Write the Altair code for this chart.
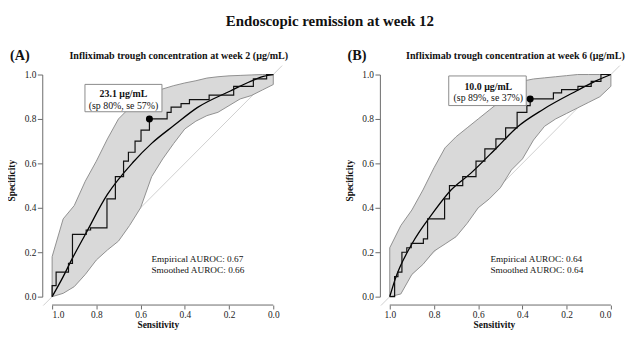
import altair as alt
import pandas as pd

FONT = "Liberation Serif"
TXT = "#111111"
AXC = "#6a6a6a"

SUPTITLE = "Endoscopic remission at week 12"
X_TITLE = "Sensitivity"
Y_TITLE = "Specificity"
TICKS = [0.0, 0.2, 0.4, 0.6, 0.8, 1.0]

# ---------------- Panel A ----------------
A_label = "(A)"
A_title = "Infliximab trough concentration at week 2 (μg/mL)"
A_emp_x = [1.0, 1.0, 0.982, 0.982, 0.926, 0.926, 0.908, 0.908, 0.846, 0.846, 0.826, 0.826,
           0.752, 0.752, 0.714, 0.714, 0.677, 0.677, 0.655, 0.655, 0.625, 0.625, 0.598, 0.598,
           0.56, 0.56, 0.48, 0.48, 0.462, 0.462, 0.417, 0.417, 0.379, 0.379, 0.29, 0.29,
           0.179, 0.179, 0.09, 0.09, 0.03, 0.03, 0.0]
A_emp_y = [0.0, 0.05, 0.05, 0.11, 0.11, 0.15, 0.15, 0.28, 0.28, 0.30, 0.30, 0.31,
           0.31, 0.44, 0.44, 0.54, 0.54, 0.61, 0.61, 0.65, 0.65, 0.70, 0.70, 0.75,
           0.75, 0.80, 0.80, 0.83, 0.83, 0.853, 0.853, 0.869, 0.869, 0.887, 0.887, 0.907,
           0.907, 0.947, 0.947, 0.98, 0.98, 1.0, 1.0]
A_smooth_x = [1.0, 0.95, 0.915, 0.85, 0.75, 0.633, 0.55, 0.45, 0.342, 0.194, 0.1, 0.045, 0.0]
A_smooth_y = [0.0, 0.09, 0.16, 0.28, 0.46, 0.606, 0.69, 0.77, 0.852, 0.926, 0.97, 0.992, 1.0]
BAND_X = [1.0, 0.95, 0.9, 0.85, 0.8, 0.75, 0.7, 0.65, 0.6, 0.55, 0.5, 0.45, 0.4, 0.35,
          0.3, 0.25, 0.2, 0.15, 0.1, 0.05, 0.0]
A_band_hi = [0.18, 0.35, 0.41, 0.52, 0.61, 0.71, 0.80, 0.85, 0.89, 0.915, 0.935, 0.95, 0.962,
             0.972, 0.984, 0.99, 0.994, 0.996, 0.998, 1.0, 1.0]
A_band_lo = [0.0, 0.015, 0.045, 0.10, 0.165, 0.21, 0.25, 0.32, 0.40, 0.54, 0.62, 0.69, 0.755,
             0.79, 0.815, 0.83, 0.86, 0.89, 0.905, 0.93, 0.955]
A_opt = [0.56, 0.80]
A_thr = "23.1 μg/mL"
A_opt_txt = "(sp 80%, se 57%)"
A_auc = ["Empirical AUROC: 0.67", "Smoothed AUROC: 0.66"]
A_auc_x = 0.551

# ---------------- Panel B ----------------
B_label = "(B)"
B_title = "Infliximab trough concentration at week 6 (μg/mL)"
B_emp_x = [1.0, 0.978, 0.978, 0.963, 0.963, 0.945, 0.945, 0.923, 0.923, 0.903, 0.903, 0.848,
           0.848, 0.829, 0.829, 0.752, 0.752, 0.73, 0.73, 0.707, 0.707, 0.67, 0.67, 0.61,
           0.61, 0.57, 0.57, 0.52, 0.52, 0.476, 0.476, 0.424, 0.424, 0.38, 0.38, 0.365,
           0.365, 0.26, 0.26, 0.223, 0.223, 0.149, 0.149, 0.089, 0.089, 0.045, 0.045, 0.0]
B_emp_y = [0.0, 0.0, 0.09, 0.09, 0.11, 0.11, 0.20, 0.20, 0.22, 0.22, 0.24, 0.24,
           0.26, 0.26, 0.35, 0.35, 0.44, 0.44, 0.50, 0.50, 0.50, 0.50, 0.54, 0.54,
           0.61, 0.61, 0.665, 0.665, 0.71, 0.71, 0.76, 0.76, 0.83, 0.83, 0.86, 0.86,
           0.89, 0.89, 0.917, 0.917, 0.932, 0.932, 0.947, 0.947, 0.969, 0.969, 1.0, 1.0]
B_smooth_x = [1.0, 0.975, 0.9, 0.804, 0.722, 0.633, 0.513, 0.424, 0.305, 0.156, 0.07, 0.0]
B_smooth_y = [0.0, 0.08, 0.237, 0.378, 0.481, 0.556, 0.674, 0.763, 0.844, 0.926, 0.97, 1.0]
B_band_hi = [0.22, 0.32, 0.39, 0.48, 0.58, 0.67, 0.72, 0.76, 0.80, 0.84, 0.88, 0.93, 0.97,
             0.98, 0.985, 0.99, 0.995, 1.0, 1.0, 1.0, 1.0]
B_band_lo = [0.0, 0.012, 0.10, 0.145, 0.205, 0.237, 0.27, 0.33, 0.40, 0.44, 0.49, 0.57, 0.62,
             0.705, 0.767, 0.80, 0.825, 0.85, 0.875, 0.90, 0.947]
B_opt = [0.365, 0.89]
B_thr = "10.0 μg/mL"
B_opt_txt = "(sp 89%, se 37%)"
B_auc = ["Empirical AUROC: 0.64", "Smoothed AUROC: 0.64"]
B_auc_x = 0.545

AUC_Y = [0.155, 0.106]
DIAG = [[1.04, -0.04], [-0.04, 1.04]]

# ---------------- layout (pixels) ----------------
PW, H = 224, 225          # one panel's plot box
GAP = 342                 # left edge of panel B's box, from panel A's
TOTAL_W = GAP + PW        # whole drawing area
SVG_W, SVG_H = 626, 322
PAD_L, PAD_T = 44.7, 65.3
PAD = {"left": PAD_L, "top": PAD_T, "right": SVG_W - PAD_L - TOTAL_W,
       "bottom": SVG_H - PAD_T - H}
X_OFF, Y_OFF = 8.5, 10


def text(t, px, py, size, weight="normal", align="center", baseline="alphabetic", angle=0):
    return alt.Chart(pd.DataFrame({"t": [t]})).mark_text(
        font=FONT, fontSize=size, fontWeight=weight, align=align, baseline=baseline,
        angle=angle, color=TXT
    ).encode(text="t:N", x=alt.value(px), y=alt.value(py))


def panel(x0, ex, ey, sx, sy, hi, lo, opt, thr, opt_txt, auc, auc_x, box, txt):
    # x0 = pixel position of the panel's box inside the drawing area
    hi_v = 1 + x0 / PW
    lo_v = hi_v - TOTAL_W / PW
    xs = alt.Scale(domain=[lo_v, hi_v], reverse=True, nice=False, zero=False)
    ys = alt.Scale(domain=[0, 1], nice=False, zero=False)
    xax = alt.Axis(values=TICKS, format=".1f", title=None, orient="bottom", offset=X_OFF,
                   domain=False, tickSize=4, labelPadding=1)
    yax = alt.Axis(values=TICKS, format=".1f", title=None, orient="left",
                   offset=Y_OFF - x0, domain=True, tickSize=5, labelPadding=1.5)
    X = lambda f: alt.X(f, scale=xs)
    Y = lambda f: alt.Y(f, scale=ys)

    diag = alt.Chart(pd.DataFrame({"x": DIAG[0], "y": DIAG[1]})).mark_line(
        color="#cfcfcf", strokeWidth=1, clip=False
    ).encode(x=alt.X("x:Q", scale=xs, axis=xax), y=alt.Y("y:Q", scale=ys, axis=yax))

    band = alt.Chart(pd.DataFrame({"x": BAND_X, "hi": hi, "lo": lo})).mark_area(
        fill="#d9d9d9", stroke="#8f8f8f", strokeWidth=1, interpolate="linear"
    ).encode(x=X("x:Q"), y=Y("hi:Q"), y2="lo:Q")

    smooth = alt.Chart(pd.DataFrame({"x": sx, "y": sy, "i": range(len(sx))})).mark_line(
        color="black", strokeWidth=1.3, interpolate="monotone"
    ).encode(x=X("x:Q"), y=Y("y:Q"), order="i:Q")

    emp = alt.Chart(pd.DataFrame({"x": ex, "y": ey, "i": range(len(ex))})).mark_line(
        color="#111111", strokeWidth=1.2
    ).encode(x=X("x:Q"), y=Y("y:Q"), order="i:Q")

    xline = alt.Chart(pd.DataFrame({"a": [TICKS[-1]], "b": [TICKS[0]]})).mark_rule(
        color=AXC, strokeWidth=1
    ).encode(x=X("a:Q"), x2="b:Q", y=alt.value(H + X_OFF))

    pdf = pd.DataFrame({"x": [opt[0]], "y": [opt[1]], "t1": [thr], "t2": [opt_txt]})
    rect = alt.Chart(pdf).mark_rect(
        fill="white", stroke="#8a8a8a", strokeWidth=1,
        xOffset=box[0], x2Offset=box[1], yOffset=box[2], y2Offset=box[3]
    ).encode(x=X("x:Q"), x2="x:Q", y=Y("y:Q"), y2="y:Q")
    pt = alt.Chart(pdf).mark_circle(size=50, color="black", opacity=1).encode(
        x=X("x:Q"), y=Y("y:Q"))
    t1 = alt.Chart(pdf).mark_text(
        font=FONT, fontSize=10, fontWeight="bold", color=TXT, baseline="alphabetic",
        dx=txt[0], dy=txt[1]
    ).encode(x=X("x:Q"), y=Y("y:Q"), text="t1:N")
    t2 = alt.Chart(pdf).mark_text(
        font=FONT, fontSize=10, color=TXT, baseline="alphabetic", dx=txt[0], dy=txt[2]
    ).encode(x=X("x:Q"), y=Y("y:Q"), text="t2:N")

    aucs = alt.Chart(pd.DataFrame({"x": [auc_x] * 2, "y": AUC_Y, "t": auc})).mark_text(
        font=FONT, fontSize=9.4, align="left", baseline="alphabetic", color=TXT
    ).encode(x=X("x:Q"), y=Y("y:Q"), text="t:N")

    return alt.layer(diag, band, smooth, emp, xline, rect, pt, t1, t2, aucs)


pA = panel(0, A_emp_x, A_emp_y, A_smooth_x, A_smooth_y, A_band_hi, A_band_lo, A_opt, A_thr,
           A_opt_txt, A_auc, A_auc_x, box=(-65.3, 12.7, -35, -7.3), txt=(-26.3, -21.8, -10.5))
pB = panel(GAP, B_emp_x, B_emp_y, B_smooth_x, B_smooth_y, B_band_hi, B_band_lo, B_opt, B_thr,
           B_opt_txt, B_auc, B_auc_x, box=(-82.5, -4, -23.3, 6.7), txt=(-42.4, -9.5, 1.8))

texts = alt.layer(
    text(SUPTITLE, 281.3, -49.3, 15.1, "bold"),
    text(A_label, -42.7, -14.3, 14.4, "bold", align="left"),
    text(B_label, GAP - 42.7, -14.3, 14.4, "bold", align="left"),
    text(A_title, 128.3, -16, 10.2, "bold"),
    text(B_title, GAP + 127.3, -16, 10.2, "bold"),
    text(Y_TITLE, -40.5, 107.5, 9.5, "bold", baseline="middle", angle=270),
    text(Y_TITLE, GAP - 40.5, 107.5, 9.5, "bold", baseline="middle", angle=270),
    text(X_TITLE, 107.5, 256.7, 9.5, "bold"),
    text(X_TITLE, GAP + 106, 256.7, 9.5, "bold"),
)

chart = alt.layer(pA, pB, texts).resolve_scale(x="independent", y="independent").properties(
    width=TOTAL_W, height=H,
    autosize=alt.AutoSizeParams(type="none"),
    padding=PAD,
).configure_view(stroke=None).configure_axis(
    domainColor=AXC, tickColor=AXC, labelFont=FONT, labelFontSize=9.5, labelColor="#222222",
    grid=False
)

chart.save("out.html", embed_options={"renderer": "svg", "actions": False})
